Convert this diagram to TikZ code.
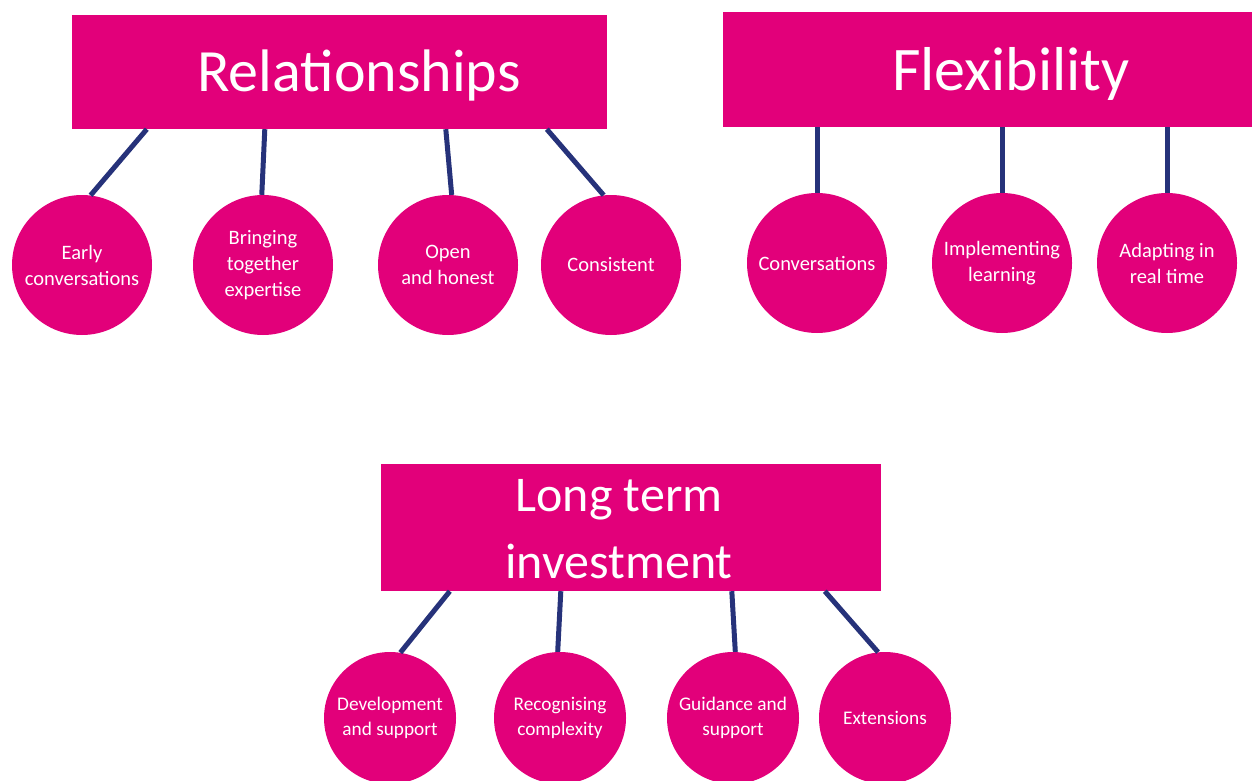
\documentclass[tikz,border=0pt]{standalone}
\usepackage{fontspec}
\setmainfont{Carlito}
\definecolor{magbox}{RGB}{226,0,122}
\definecolor{navy}{RGB}{38,50,122}

\begin{document}
\begin{tikzpicture}[x=1pt,y=1pt,
  head/.style={fill=magbox,inner sep=0pt},
  title/.style={text=white,anchor=base,inner sep=0pt,align=center},
  bubble/.style={circle,fill=magbox,text=white,align=center,inner sep=0pt,
    minimum size=140pt,font=\fontsize{20.5}{26}\selectfont},
  small/.style={bubble,minimum size=132pt,font=\fontsize{19.3}{25}\selectfont},
  link/.style={navy,line width=5pt}]
  \useasboundingbox (0,0) rectangle (1252,-781);

  % relationships
  \node[head,minimum width=535pt,minimum height=114pt] (rel) at (339.5,-72) {};
  \node[title,font=\fontsize{60}{70}\selectfont] (reltitle) at (359,-92) {Relationships};
  \node[bubble] (r1) at (82,-265) {Early\\conversations};
  \node[bubble] (r2) at (263,-265) {Bringing\\together\\expertise};
  \node[bubble] (r3) at (448,-265) {Open\\and honest};
  \node[bubble] (r4) at (611,-265) {Consistent};
  \draw[link] ([xshift=75pt]rel.south west) -- (r1.83);
  \draw[link] ([xshift=193pt]rel.south west) -- (r2.91);
  \draw[link] ([xshift=374pt]rel.south west) -- (r3.87);
  \draw[link] ([xshift=475pt]rel.south west) -- (r4.96);

  % flexibility
  \node[head,minimum width=577pt,minimum height=115pt] (flex) at (1011.5,-69.5) {};
  \node[title,font=\fontsize{62}{72}\selectfont] (flextitle) at (1011,-91) {Flexibility};
  \node[bubble] (f1) at (817,-263) {Conversations};
  \node[bubble] (f2) at (1002,-263) {Implementing\\learning};
  \node[bubble] (f3) at (1167,-263) {Adapting in\\real time};
  \foreach \i in {f1,f2,f3}
    \draw[link] (\i.north) -- (\i.north |- flex.south);

  % long term investment (base = last line)
  \node[head,minimum width=500pt,minimum height=127pt] (inv) at (631,-527.5) {};
  \node[title,font=\fontsize{50}{67}\selectfont] (invtitle) at (619,-578) {Long term\\investment};
  \node[small] (i1) at (390,-718) {Development\\and support};
  \node[small] (i2) at (560,-718) {Recognising\\complexity};
  \node[small] (i3) at (733,-718) {Guidance and\\support};
  \node[small] (i4) at (885,-718) {Extensions};
  \draw[link] ([xshift=69pt]inv.south west) -- (i1.81);
  \draw[link] ([xshift=180pt]inv.south west) -- (i2.92);
  \draw[link] ([xshift=351pt]inv.south west) -- (i3.88);
  \draw[link] ([xshift=444pt]inv.south west) -- (i4.96);
\end{tikzpicture}
\end{document}
